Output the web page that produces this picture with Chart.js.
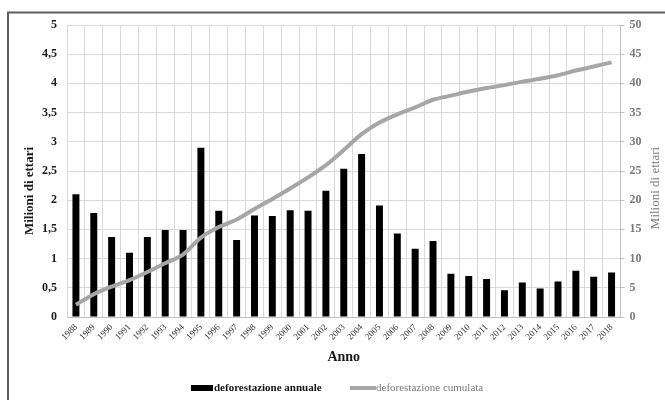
<!DOCTYPE html>
<html>
<head>
<meta charset="utf-8">
<script src="https://cdn.jsdelivr.net/npm/chart.js@4/dist/chart.umd.min.js"></script>
<style>
html,body{margin:0;padding:0;background:#fff;}
#wrap{width:665px;height:400px;position:relative;}
</style>
</head>
<body>
<div id="wrap"><canvas id="c" width="665" height="400"></canvas></div>
<script>
const years = ['1988','1989','1990','1991','1992','1993','1994','1995','1996','1997','1998','1999','2000','2001','2002','2003','2004','2005','2006','2007','2008','2009','2010','2011','2012','2013','2014','2015','2016','2017','2018'];
const annualDeforestation = [2.10,1.78,1.37,1.10,1.37,1.49,1.49,2.90,1.82,1.32,1.74,1.73,1.83,1.82,2.16,2.54,2.79,1.91,1.43,1.17,1.30,0.74,0.70,0.65,0.46,0.59,0.49,0.61,0.79,0.69,0.76];
const cumulativeDeforestation = [2.1,3.9,5.2,6.3,7.7,9.2,10.7,13.6,15.4,16.7,18.5,20.2,22.0,23.9,26.0,28.6,31.3,33.3,34.7,35.9,37.2,37.9,38.6,39.2,39.7,40.3,40.8,41.4,42.2,42.9,43.6];
const seriesNames = ['deforestazione annuale','deforestazione cumulata'];
const axisTitleY = 'Milioni di ettari';
const axisTitleX = 'Anno';

const SERIF = "'Liberation Serif', 'DejaVu Serif', serif";

const decorPlugin = {
  id: 'decor',
  beforeDraw(chart) {
    const ctx = chart.ctx;
    ctx.save();
    ctx.fillStyle = '#fff';
    ctx.fillRect(0, 0, chart.width, chart.height);
    ctx.restore();
  },
  afterDraw(chart) {
    const ctx = chart.ctx;
    const ca = chart.chartArea;
    ctx.save();
    // frame
    ctx.strokeStyle = '#5f5f5f';
    ctx.lineWidth = 2;
    ctx.beginPath();
    ctx.moveTo(8, 400);
    ctx.lineTo(8, 12.5);
    ctx.lineTo(665, 12.5);
    ctx.stroke();
    // left axis title
    ctx.fillStyle = '#1a1a1a';
    ctx.font = 'bold 13px ' + SERIF;
    ctx.textAlign = 'center';
    ctx.textBaseline = 'middle';
    ctx.save();
    ctx.translate(30, 191);
    ctx.rotate(-Math.PI / 2);
    ctx.fillText(axisTitleY, 0, 0);
    ctx.restore();
    // right axis title
    ctx.fillStyle = '#7a7a7a';
    ctx.font = '13px ' + SERIF;
    ctx.save();
    ctx.translate(656, 188);
    ctx.rotate(-Math.PI / 2);
    ctx.fillText(axisTitleY, 0, 0);
    ctx.restore();
    // x title
    ctx.fillStyle = '#1a1a1a';
    ctx.font = 'bold 14px ' + SERIF;
    ctx.fillText(axisTitleX, (ca.left + ca.right) / 2, 357);
    // legend
    const ly = 388;
    ctx.fillStyle = '#000';
    ctx.fillRect(191, ly - 3, 22, 6);
    ctx.textAlign = 'left';
    ctx.font = 'bold 11px ' + SERIF;
    ctx.fillStyle = '#111';
    ctx.fillText(seriesNames[0], 214, ly);
    ctx.strokeStyle = '#a6a6a6';
    ctx.lineWidth = 4;
    ctx.beginPath();
    ctx.moveTo(350, ly);
    ctx.lineTo(376, ly);
    ctx.stroke();
    ctx.font = '11px ' + SERIF;
    ctx.fillStyle = '#7a7a7a';
    ctx.fillText(seriesNames[1], 376, ly);
    ctx.restore();
  }
};

new Chart(document.getElementById('c'), {
  type: 'bar',
  data: {
    labels: years,
    datasets: [
      {
        type: 'line',
        label: seriesNames[1],
        data: cumulativeDeforestation,
        yAxisID: 'y1',
        borderColor: '#a6a6a6',
        backgroundColor: '#a6a6a6',
        borderWidth: 4,
        pointRadius: 0,
        tension: 0.3,
        order: 0
      },
      {
        type: 'bar',
        label: seriesNames[0],
        data: annualDeforestation,
        yAxisID: 'y',
        backgroundColor: '#000',
        barPercentage: 0.39,
        categoryPercentage: 1,
        order: 1
      }
    ]
  },
  options: {
    responsive: false,
    devicePixelRatio: 1,
    animation: false,
    layout: { padding: { top: 25, bottom: 0, left: 0, right: 0 } },
    plugins: { legend: { display: false }, tooltip: { enabled: false } },
    scales: {
      x: {
        afterFit(s) { s.height = 83; },
        grid: { color: '#d9d9d9', lineWidth: 1, drawTicks: false, offset: true },
        border: { color: '#bfbfbf' },
        ticks: {
          minRotation: 45, maxRotation: 45, padding: 5, autoSkip: false,
          color: '#333', font: { family: SERIF, size: 9 }
        }
      },
      y: {
        position: 'left',
        min: 0, max: 5,
        afterFit(s) { s.width = 67; },
        grid: { color: '#d9d9d9', lineWidth: 1, drawTicks: false },
        border: { display: false },
        ticks: {
          stepSize: 0.5, padding: 10,
          color: '#1a1a1a', font: { family: SERIF, size: 12, weight: 'bold' },
          callback: v => String(v).replace('.', ',')
        }
      },
      y1: {
        position: 'right',
        min: 0, max: 50,
        afterFit(s) { s.width = 44.5; },
        grid: { drawOnChartArea: false, drawTicks: true, tickLength: 4, color: '#bfbfbf' },
        border: { display: true, color: '#bfbfbf' },
        ticks: {
          stepSize: 5, padding: 5,
          color: '#7a7a7a', font: { family: SERIF, size: 12, weight: 'bold' }
        }
      }
    }
  },
  plugins: [decorPlugin]
});
</script>
</body>
</html>
